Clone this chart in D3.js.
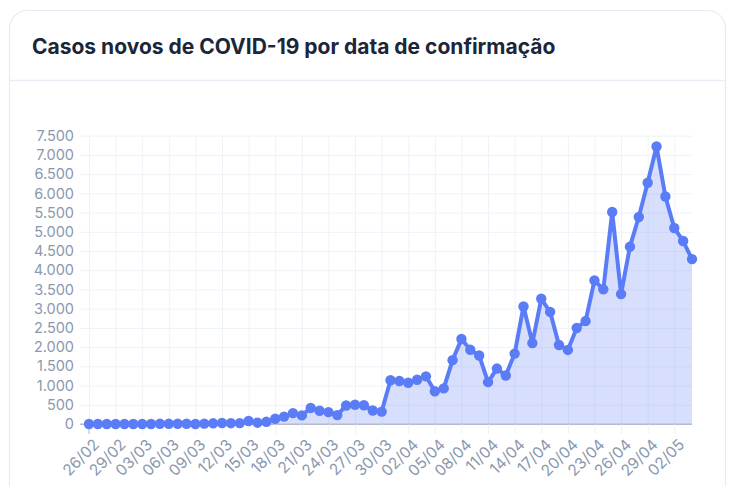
<!DOCTYPE html>
<html>
<head>
<meta charset="utf-8">
<script src="https://cdn.jsdelivr.net/npm/d3@7"></script>
<style>
  html, body { margin: 0; padding: 0; background: #ffffff; }
  svg { display: block; }
</style>
</head>
<body>
<svg id="chart" width="741" height="486"></svg>
<script>
const title = "Casos novos de COVID-19 por data de confirmação";

const categories = [
  "26/02","27/02","28/02","29/02","01/03","02/03","03/03","04/03","05/03","06/03",
  "07/03","08/03","09/03","10/03","11/03","12/03","13/03","14/03","15/03","16/03",
  "17/03","18/03","19/03","20/03","21/03","22/03","23/03","24/03","25/03","26/03",
  "27/03","28/03","29/03","30/03","31/03","01/04","02/04","03/04","04/04","05/04",
  "06/04","07/04","08/04","09/04","10/04","11/04","12/04","13/04","14/04","15/04",
  "16/04","17/04","18/04","19/04","20/04","21/04","22/04","23/04","24/04","25/04",
  "26/04","27/04","28/04","29/04","30/04","01/05","02/05","03/05","04/05"
];

const newCases = [
  1, 0, 0, 1, 0, 0, 0, 1, 5, 5,
  6, 6, 0, 9, 18, 25, 21, 23, 79, 34,
  57, 137, 193, 283, 224, 418, 345, 310, 232, 482,
  502, 487, 352, 323, 1138, 1119, 1074, 1150, 1240, 852,
  926, 1661, 2210, 1930, 1781, 1089, 1442, 1261, 1832, 3058,
  2105, 3257, 2917, 2055, 1927, 2498, 2678, 3735, 3503, 5514,
  3379, 4613, 5385, 6276, 7218, 5919, 5100, 4760, 4290
];

const xTickLabels = categories.filter((d, i) => i % 3 === 0);
const yTickValues = d3.range(0, 7501, 500);

const svg = d3.select("#chart");

// card
svg.append("rect")
  .attr("x", 9.5).attr("y", 10.5)
  .attr("width", 716).attr("height", 520)
  .attr("rx", 18).attr("ry", 18)
  .attr("fill", "#ffffff")
  .attr("stroke", "#e4ebf4").attr("stroke-width", 1.2);

svg.append("line")
  .attr("x1", 10).attr("x2", 725)
  .attr("y1", 80.5).attr("y2", 80.5)
  .attr("stroke", "#e9eff6").attr("stroke-width", 1.5);

svg.append("text")
  .attr("x", 32).attr("y", 53.5)
  .attr("font-family", "Inter, 'Noto Sans', sans-serif")
  .attr("font-weight", 700)
  .attr("font-size", 21)
  .attr("letter-spacing", 0)
  .attr("fill", "#1b2638")
  .text(title);

// scales
const x = d3.scalePoint().domain(categories).range([89, 692]);
const y = d3.scaleLinear().domain([0, 7500]).range([424, 135.7]);

const fmt = d3.formatLocale({ decimal: ",", thousands: ".", grouping: [3], currency: ["R$", ""] }).format(",d");

const font = "Inter, 'Noto Sans', sans-serif";
const labelColor = "#8a98b0";
const gridColor = "#eef3f9";

// horizontal grid via y axis
const yAxis = d3.axisLeft(y).tickValues(yTickValues).tickSize(612).tickPadding(6).tickFormat(fmt);
const gy = svg.append("g").attr("transform", "translate(692,0)").call(yAxis);
gy.select(".domain").remove();
gy.selectAll(".tick line").attr("stroke", d => d === 0 ? "#b7bfcb" : gridColor).attr("stroke-width", 1);
gy.selectAll(".tick text")
  .attr("fill", labelColor)
  .attr("font-family", font)
  .attr("font-size", 14.5)
  .attr("x", -618);

// vertical grid via x axis
const xAxis = d3.axisBottom(x).tickValues(xTickLabels).tickSize(10).tickPadding(4);
const gx = svg.append("g").attr("transform", "translate(0,424)").call(xAxis);
gx.select(".domain").remove();
gx.selectAll(".tick line")
  .attr("y1", y(7500) - 424)
  .attr("y2", 10)
  .attr("stroke", gridColor);
gx.selectAll(".tick text")
  .attr("fill", labelColor)
  .attr("font-family", font)
  .attr("font-size", 15.5)
  .attr("text-anchor", "end")
  .attr("transform", "translate(3,14) rotate(-45)")
  .attr("x", 0).attr("y", 0).attr("dy", "0.7em");

// first-tick darker stub below axis
svg.append("line")
  .attr("x1", x(categories[0])).attr("x2", x(categories[0]))
  .attr("y1", 424).attr("y2", 434)
  .attr("stroke", "#b7bfcb").attr("stroke-width", 1);

// area
const data = categories.map((c, i) => ({ c, v: newCases[i] }));
const area = d3.area().x(d => x(d.c)).y0(y(0)).y1(d => y(d.v));
svg.append("path").datum(data)
  .attr("d", area)
  .attr("fill", "rgba(92,122,246,0.24)");

// zero line over the fill
svg.append("line")
  .attr("x1", 80).attr("x2", 692)
  .attr("y1", y(0)).attr("y2", y(0))
  .attr("stroke", "#b3bac7").attr("stroke-width", 1);

const line = d3.line().x(d => x(d.c)).y(d => y(d.v));
svg.append("path").datum(data)
  .attr("d", line)
  .attr("fill", "none")
  .attr("stroke", "#5b7cf7")
  .attr("stroke-width", 4)
  .attr("stroke-linejoin", "round");

svg.append("g").selectAll("circle").data(data).join("circle")
  .attr("cx", d => x(d.c))
  .attr("cy", d => y(d.v))
  .attr("r", 5.2)
  .attr("fill", "#5b7cf7");
</script>
</body>
</html>
